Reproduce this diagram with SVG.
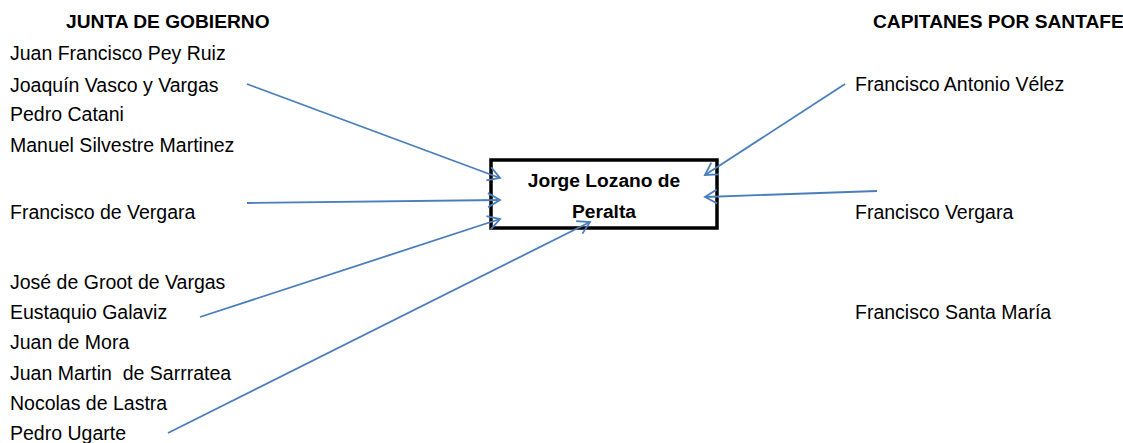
<svg xmlns="http://www.w3.org/2000/svg" width="1123" height="443" viewBox="0 0 1123 443">
<style>
text{font-family:"Liberation Sans",Arial,sans-serif;font-size:19.5px;fill:#000}
.h{font-weight:bold;font-size:19.2px}
.c{stroke:#4a7ebb;stroke-width:1.8;fill:none}
</style>
<defs>
<marker id="a" markerUnits="userSpaceOnUse" markerWidth="20" markerHeight="20" refX="14" refY="8" orient="auto">
<path d="M2,1 L14,8 L2,15" fill="none" stroke="#4a7ebb" stroke-width="1.8"/>
</marker>
</defs>
<rect width="1123" height="443" fill="#fff"/>
<g id="left-list">
<text class="h" x="66" y="28">JUNTA DE GOBIERNO</text>
<text x="10" y="60">Juan Francisco Pey Ruiz</text>
<text x="10" y="92">Joaquín Vasco y Vargas</text>
<text x="10" y="121">Pedro Catani</text>
<text x="10" y="152">Manuel Silvestre Martinez</text>
<text x="10" y="219">Francisco de Vergara</text>
<text x="10" y="289">José de Groot de Vargas</text>
<text x="10" y="319">Eustaquio Galaviz</text>
<text x="10" y="349">Juan de Mora</text>
<text x="10" y="380" xml:space="preserve">Juan Martin  de Sarrratea</text>
<text x="10" y="410">Nocolas de Lastra</text>
<text x="10" y="440">Pedro Ugarte</text>
</g>
<g id="right-list">
<text class="h" x="873" y="28">CAPITANES POR SANTAFE</text>
<text x="855" y="91">Francisco Antonio Vélez</text>
<text x="855" y="219">Francisco Vergara</text>
<text x="855" y="319">Francisco Santa María</text>
</g>
<g id="center">
<rect x="491" y="160" width="226" height="68" fill="#fff" stroke="#000" stroke-width="3.5"/>
<text class="h" x="604" y="187" text-anchor="middle">Jorge Lozano de</text>
<text class="h" x="604" y="218" text-anchor="middle">Peralta</text>
</g>
<g id="connectors">
<line class="c" x1="247" y1="84" x2="500" y2="178" marker-end="url(#a)"/>
<line class="c" x1="247" y1="203" x2="500" y2="200" marker-end="url(#a)"/>
<line class="c" x1="200" y1="317" x2="500" y2="219" marker-end="url(#a)"/>
<line class="c" x1="168" y1="433" x2="590" y2="222" marker-end="url(#a)"/>
<line class="c" x1="845" y1="84" x2="705" y2="175" marker-end="url(#a)"/>
<line class="c" x1="877" y1="191" x2="705" y2="197" marker-end="url(#a)"/>
</g>
</svg>
